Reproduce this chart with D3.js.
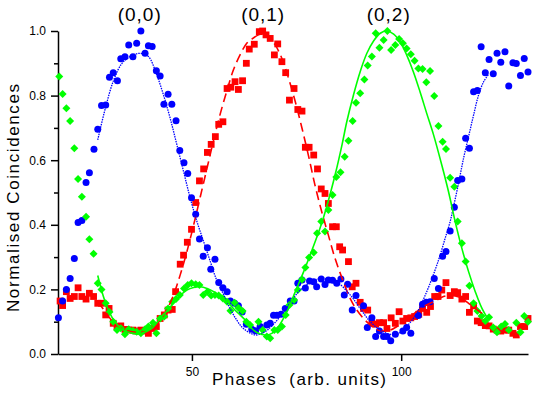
<!DOCTYPE html>
<html>
<head>
<meta charset="utf-8">
<script src="https://cdn.jsdelivr.net/npm/d3@7"></script>
<style>
  body { margin: 0; background: #fff; }
  text { font-family: "Liberation Sans", Arial, sans-serif; fill: #000; white-space: pre; }
</style>
</head>
<body>
<svg id="chart1" width="545" height="394"></svg>
<script>
// measured points [phase, normalised coincidences]
var blueData = [
  [18.1,0.112],[19.1,0.164],[20.0,0.200],[20.9,0.234],[21.9,0.296],[22.8,0.407],[23.7,0.413],[24.7,0.531],
  [25.5,0.561],[26.6,0.634],[27.5,0.696],[28.4,0.769],[29.4,0.771],[30.3,0.857],[31.2,0.871],[32.2,0.846],
  [33.0,0.914],[34.0,0.920],[34.9,0.957],[35.9,0.920],[36.8,0.962],[37.8,1.000],[38.8,0.931],[39.6,0.954],
  [40.5,0.952],[41.5,0.877],[42.4,0.861],[43.3,0.773],[44.3,0.804],[45.2,0.773],[46.2,0.722],[47.1,0.630],
  [48.1,0.592],[49.0,0.559],[49.9,0.484],[50.9,0.433],[51.8,0.356],[52.7,0.303],[53.7,0.329],[54.5,0.262],
  [55.5,0.293],[56.4,0.221],[57.4,0.205],[58.4,0.193],[59.2,0.164],[60.2,0.157],[61.1,0.149],[62.0,0.130],
  [63.0,0.092],[64.3,0.077],[65.2,0.072],[66.3,0.085],[67.9,0.090],[68.7,0.095],[69.5,0.120],[70.3,0.120],
  [71.3,0.123],[72.3,0.141],[73.5,0.164],[74.4,0.164],[75.3,0.219],[76.3,0.229],[77.1,0.204],[78.1,0.226],
  [79.1,0.224],[79.8,0.208],[80.9,0.232],[81.8,0.215],[82.6,0.229],[83.6,0.228],[84.6,0.219],[85.6,0.232],
  [86.4,0.183],[87.2,0.216],[88.3,0.136],[89.2,0.181],[91.0,0.149],[91.9,0.082],[93.0,0.112],[93.9,0.054],
  [94.8,0.071],[95.8,0.054],[96.6,0.054],[97.5,0.041],[98.6,0.061],[100.4,0.071],[101.3,0.082],[102.3,0.064],
  [104.1,0.119],[105.1,0.154],[106.0,0.160],[106.9,0.162],[107.9,0.234],[108.9,0.203],[109.9,0.303],[110.7,0.317],
  [111.7,0.381],[112.7,0.454],[113.5,0.537],[114.5,0.542],[115.4,0.668],[116.3,0.637],[117.3,0.812],[118.2,0.816],
  [119.1,0.951],[120.1,0.871],[121.0,0.912],[122.0,0.868],[122.9,0.931],[123.8,0.903],[124.8,0.936],[125.7,0.830],
  [126.7,0.902],[127.5,0.899],[128.5,0.862],[129.4,0.915],[130.3,0.873]
];

var redData = [
  [18.5,0.164],[19.1,0.150],[20.0,0.193],[20.9,0.172],[21.9,0.178],[22.8,0.205],[23.7,0.178],[24.7,0.170],
  [25.5,0.188],[26.5,0.178],[27.5,0.157],[28.4,0.157],[29.4,0.121],[30.2,0.141],[31.2,0.095],[32.1,0.085],
  [33.0,0.087],[34.0,0.076],[34.9,0.074],[35.9,0.074],[36.8,0.071],[37.8,0.074],[38.8,0.071],[39.6,0.064],
  [40.7,0.079],[41.5,0.085],[42.4,0.110],[43.4,0.121],[44.3,0.136],[45.3,0.138],[46.1,0.193],[47.2,0.278],
  [48.0,0.306],[48.9,0.346],[49.9,0.386],[50.9,0.469],[51.8,0.536],[52.8,0.573],[53.7,0.624],[54.6,0.649],
  [55.6,0.673],[56.4,0.711],[57.4,0.719],[58.4,0.822],[59.3,0.826],[60.3,0.843],[61.1,0.819],[62.1,0.846],
  [63.0,0.900],[63.7,0.944],[64.9,0.959],[66.1,0.998],[66.9,1.000],[67.7,0.988],[68.7,0.977],[69.7,0.926],
  [70.5,0.960],[71.5,0.905],[72.4,0.871],[73.3,0.786],[74.4,0.822],[75.3,0.757],[76.3,0.752],[77.1,0.640],
  [78.0,0.640],[79.1,0.616],[80.0,0.573],[80.9,0.511],[81.8,0.497],[82.6,0.466],[83.6,0.394],[84.5,0.394],
  [85.3,0.332],[86.0,0.322],[87.4,0.286],[88.3,0.208],[89.2,0.219],[90.2,0.160],[91.0,0.141],[92.0,0.136],
  [93.0,0.095],[93.9,0.092],[94.8,0.097],[95.8,0.097],[96.6,0.079],[97.6,0.112],[98.6,0.095],[99.5,0.131],
  [100.4,0.102],[101.3,0.110],[102.3,0.112],[103.2,0.116],[104.2,0.123],[105.1,0.141],[106.1,0.129],[107.0,0.147],
  [108.0,0.178],[108.8,0.178],[109.7,0.198],[110.7,0.221],[111.7,0.181],[112.7,0.193],[113.5,0.190],[114.5,0.170],
  [115.4,0.178],[116.3,0.129],[117.3,0.149],[118.2,0.102],[119.1,0.097],[120.1,0.088],[121.0,0.087],[122.0,0.077],
  [122.9,0.074],[123.8,0.071],[124.8,0.074],[125.7,0.074],[126.7,0.064],[127.5,0.059],[128.5,0.085],[129.5,0.085],
  [130.3,0.110]
];

var greenData = [
  [18.3,0.859],[19.1,0.805],[20.0,0.761],[20.9,0.721],[21.9,0.637],[22.8,0.542],[23.7,0.487],[24.7,0.425],
  [25.5,0.355],[26.5,0.310],[27.5,0.219],[28.4,0.200],[29.4,0.157],[30.3,0.130],[31.2,0.100],[32.1,0.074],
  [33.0,0.080],[34.0,0.061],[34.9,0.077],[35.9,0.072],[36.8,0.069],[37.8,0.064],[38.8,0.077],[39.6,0.085],
  [40.7,0.097],[41.5,0.064],[42.4,0.110],[43.4,0.116],[44.3,0.141],[45.3,0.162],[46.2,0.170],[47.1,0.183],
  [48.1,0.203],[49.0,0.214],[49.9,0.219],[50.9,0.216],[51.8,0.214],[52.7,0.183],[53.7,0.193],[54.6,0.181],
  [55.5,0.183],[56.4,0.181],[57.4,0.172],[58.4,0.162],[59.2,0.134],[60.2,0.159],[61.1,0.143],[62.1,0.133],
  [63.0,0.100],[63.9,0.090],[65.9,0.100],[66.9,0.074],[67.9,0.054],[68.7,0.049],[69.7,0.074],[70.5,0.074],
  [71.5,0.085],[72.4,0.121],[73.3,0.152],[74.4,0.167],[75.3,0.198],[76.3,0.231],[77.1,0.268],[78.0,0.299],
  [79.1,0.314],[79.9,0.374],[80.9,0.410],[81.8,0.379],[82.6,0.446],[83.6,0.492],[84.5,0.548],[85.5,0.563],
  [86.5,0.611],[87.4,0.660],[88.4,0.721],[89.2,0.778],[90.2,0.807],[91.2,0.850],[92.0,0.893],[93.0,0.921],
  [93.9,0.993],[94.8,0.948],[95.8,0.972],[96.7,1.000],[97.6,0.941],[98.6,0.957],[99.5,0.975],[100.4,0.962],
  [101.3,0.946],[102.3,0.928],[103.2,0.908],[104.1,0.884],[105.1,0.882],[106.0,0.841],[106.9,0.876],[107.9,0.799],
  [108.9,0.706],[109.9,0.657],[110.7,0.635],[111.7,0.546],[112.7,0.518],[113.5,0.410],[114.5,0.343],[115.4,0.286],
  [116.3,0.211],[117.3,0.157],[118.2,0.133],[119.2,0.118],[120.1,0.102],[121.0,0.114],[122.0,0.082],[122.9,0.067],
  [123.9,0.085],[124.8,0.093],[125.7,0.074],[127.5,0.097],[128.5,0.067],[129.4,0.118],[130.3,0.100]
];

// fitted curves
var blueFit = [
  [27.5,0.663],[29.3,0.760],[31.3,0.848],[33.3,0.900],[35.7,0.924],[37.6,0.931],[39.6,0.921],[41.6,0.864],
  [43.2,0.802],[44.8,0.730],[46.4,0.648],[48.0,0.565],[49.6,0.482],[51.2,0.410],[52.8,0.348],[54.4,0.286],
  [55.9,0.229],[57.6,0.183],[59.1,0.141],[60.7,0.105],[62.3,0.079],[65.1,0.059],[66.7,0.064],[68.3,0.077],
  [70.7,0.110],[73.1,0.152],[75.5,0.193],[77.9,0.219],[80.2,0.232],[82.6,0.231],[85.0,0.219],[87.8,0.183],
  [90.2,0.141],[92.6,0.100],[95.0,0.074],[97.4,0.061],[99.4,0.064],[101.3,0.085],[103.7,0.126],[106.1,0.193],
  [108.1,0.260],[109.3,0.306],[110.5,0.358],[111.7,0.410],[112.5,0.456],[113.7,0.528],[114.9,0.606],
  [116.1,0.673],[117.3,0.740],[118.5,0.802],[119.7,0.843],[120.9,0.866]
];

var redFit = [
  [27.5,0.162],[29.3,0.131],[31.3,0.097],[33.3,0.079],[35.7,0.069],[38.0,0.067],[40.4,0.074],[42.4,0.105],
  [44.0,0.136],[45.6,0.183],[47.2,0.245],[48.8,0.317],[50.4,0.399],[52.0,0.487],[53.6,0.575],[55.2,0.663],
  [56.8,0.745],[58.4,0.817],[59.9,0.879],[61.5,0.926],[63.1,0.962],[64.3,0.975],[65.9,0.988],[67.1,0.991],
  [68.3,0.982],[69.9,0.957],[71.5,0.915],[73.1,0.853],[74.7,0.781],[76.3,0.699],[77.9,0.611],[79.4,0.523],
  [81.0,0.441],[82.6,0.368],[84.2,0.296],[85.9,0.234],[87.8,0.172],[89.4,0.136],[91.0,0.110],[92.6,0.090],
  [94.2,0.076],[95.8,0.071],[97.4,0.074],[99.0,0.085],[100.5,0.100],[102.1,0.116],[103.7,0.131],[105.3,0.147],
  [106.9,0.157],[108.6,0.167],[109.7,0.176],[111.3,0.181],[112.9,0.180],[114.5,0.172],[116.1,0.157],
  [117.7,0.141],[119.5,0.124]
];

var greenFit = [
  [27.5,0.243],[28.5,0.193],[29.7,0.147],[31.3,0.105],[33.3,0.077],[35.7,0.064],[38.0,0.064],[40.4,0.079],
  [42.4,0.110],[44.0,0.133],[45.6,0.157],[47.2,0.181],[48.8,0.198],[50.4,0.206],[52.0,0.208],[53.6,0.203],
  [55.2,0.193],[56.8,0.180],[58.4,0.162],[59.9,0.141],[61.5,0.121],[63.1,0.100],[64.3,0.079],[65.9,0.064],
  [67.5,0.059],[69.1,0.064],[70.7,0.085],[72.7,0.131],[74.7,0.193],[76.7,0.255],[78.7,0.322],[80.6,0.389],
  [82.2,0.456],[84.2,0.554],[85.9,0.650],[87.0,0.719],[88.6,0.802],[90.2,0.874],[91.8,0.931],[93.4,0.969],
  [95.0,0.993],[96.6,1.000],[98.2,0.990],[99.8,0.965],[101.3,0.926],[102.9,0.874],[104.5,0.812],[106.1,0.745],
  [107.7,0.680],[109.7,0.585],[111.3,0.503],[112.9,0.410],[114.5,0.327],[116.1,0.255],[117.7,0.193],
  [119.3,0.141],[120.9,0.105]
];

var peakLabels = ["(0,0)", "(0,1)", "(0,2)"];
var peakPos = [38, 67.5, 97.5];
var xTicks = [50, 100];
var yTicks = [0, 0.2, 0.4, 0.6, 0.8, 1.0];
var yMinorTicks = [0.1, 0.3, 0.5, 0.7, 0.9];

var svg = d3.select('#chart1');

var x = d3.scaleLinear().domain([18, 130.3]).range([58, 528]);
var y = d3.scaleLinear().domain([0, 1]).range([354, 31]);

// axes
var yAxis = svg.append("g")
	.attr("transform", "translate(58,0)")
	.call(d3.axisLeft(y).tickValues(yTicks).tickFormat(d3.format(".1f")).tickSize(7).tickSizeOuter(0));
svg.append("g")
	.attr("transform", "translate(58,0)")
	.call(d3.axisLeft(y).tickValues(yMinorTicks).tickFormat("").tickSize(4).tickSizeOuter(0))
	.select(".domain").remove();
var xAxis = svg.append("g")
	.attr("transform", "translate(0,354)")
	.call(d3.axisBottom(x).tickValues(xTicks).tickSize(7).tickSizeOuter(0));

svg.selectAll(".domain, .tick line").attr("stroke", "#000").attr("stroke-width", 1.5);
yAxis.selectAll("text")
	.attr("font-size", "12px")
	.attr("font-family", "Liberation Sans, Arial, sans-serif")
	.attr("x", -12);
xAxis.selectAll("text")
	.attr("font-size", "12px")
	.attr("font-family", "Liberation Sans, Arial, sans-serif")
	.attr("y", 13);

// axis titles
svg.append("text")
	.attr("x", 212).attr("y", 385)
	.attr("font-size", "17px")
	.attr("textLength", 174)
	.attr("lengthAdjust", "spacing")
	.text("Phases  (arb. units)");

svg.append("text")
	.attr("transform", "translate(19,198) rotate(-90)")
	.attr("text-anchor", "middle")
	.attr("font-size", "17px")
	.attr("textLength", 228)
	.attr("lengthAdjust", "spacing")
	.text("Normalised Coincidences");

svg.selectAll(".peak")
	.data(peakLabels)
	.enter().append("text")
	.attr("class", "peak")
	.attr("x", function (d, i) { return x(peakPos[i]) - 2; })
	.attr("y", 21)
	.attr("text-anchor", "middle")
	.attr("font-size", "19px")
	.attr("letter-spacing", "1px")
	.text(function (d) { return d; });

// points
svg.append("g").selectAll("rect")
	.data(redData)
	.enter().append("rect")
	.attr("x", function (d) { return x(d[0]) - 3.4; })
	.attr("y", function (d) { return y(d[1]) - 3.4; })
	.attr("width", 6.8)
	.attr("height", 6.8)
	.style("fill", "#ff0000");

svg.append("g").selectAll("circle")
	.data(blueData)
	.enter().append("circle")
	.attr("cx", function (d) { return x(d[0]); })
	.attr("cy", function (d) { return y(d[1]); })
	.attr("r", 3.5)
	.style("fill", "#0000ff");

svg.append("g").selectAll("path")
	.data(greenData)
	.enter().append("path")
	.attr("d", "M0,-4L4,0L0,4L-4,0Z")
	.attr("transform", function (d) { return "translate(" + x(d[0]) + "," + y(d[1]) + ")"; })
	.style("fill", "#00ff00");

// fits
var line = d3.line()
	.x(function (d) { return x(d[0]); })
	.y(function (d) { return y(d[1]); })
	.curve(d3.curveCatmullRom.alpha(0.5));

svg.append("path").attr("d", line(redFit))
	.style("fill", "none").style("stroke", "#ff0000").style("stroke-width", 1.6)
	.style("stroke-dasharray", "9,5");
svg.append("path").attr("d", line(blueFit))
	.style("fill", "none").style("stroke", "#0000ff").style("stroke-width", 1.3)
	.style("stroke-dasharray", "1.5,1");
svg.append("path").attr("d", line(greenFit))
	.style("fill", "none").style("stroke", "#00ff00").style("stroke-width", 1.6);
</script>
</body>
</html>
